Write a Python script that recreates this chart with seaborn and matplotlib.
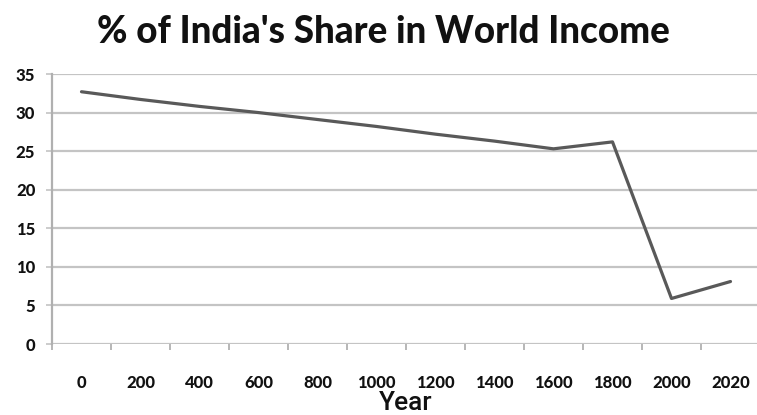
import pandas as pd
import matplotlib
matplotlib.use("Agg")
import matplotlib.pyplot as plt
import seaborn as sns
from matplotlib.ticker import FixedLocator

# values
years = ["0", "200", "400", "600", "800", "1000", "1200", "1400", "1600", "1800", "2000", "2020"]
share = [32.7, 31.7, 30.8, 30.0, 29.1, 28.2, 27.2, 26.3, 25.3, 26.2, 5.9, 8.1]
y_ticks = [0, 5, 10, 15, 20, 25, 30, 35]

df = pd.DataFrame({"Year": years, "Share": share})

sns.set_theme(style="white")
plt.rcParams["font.family"] = ["Lato", "DejaVu Sans"]

fig = plt.figure(figsize=(7.57, 4.15), dpi=100)
ax = fig.add_axes([52 / 757, 1 - 344 / 415, 708 / 757, 270 / 415])

sns.lineplot(data=df, x="Year", y="Share", ax=ax, color="#595959", linewidth=2.3, sort=False)

ax.set_xlim(-0.5, len(years) - 0.5)
ax.set_ylim(0, 35)
ax.set_yticks(y_ticks)
ax.yaxis.grid(True, color="#c4c4c4", linewidth=1.6)
ax.xaxis.grid(False)

for side in ["top", "right", "bottom"]:
    ax.spines[side].set_visible(False)
ax.spines["left"].set_color("#b0b0b0")
ax.spines["left"].set_linewidth(1.6)

ax.set_xticks(range(len(years)))
ax.set_xticklabels(years, fontsize=12, fontweight="black", color="#111111")
ax.xaxis.set_minor_locator(FixedLocator([i + 0.5 for i in range(-1, len(years))]))
ax.tick_params(axis="x", which="major", length=0, pad=22)
ax.tick_params(axis="x", which="minor", bottom=True, length=4, width=1.2, color="#aaaaaa")
ax.tick_params(axis="y", which="major", left=True, length=4, width=1.2, color="#c4c4c4", pad=8)
for lbl in ax.get_yticklabels():
    lbl.set_fontsize(12)
    lbl.set_fontweight("black")
    lbl.set_color("#111111")

ax.set_xlabel("Year", fontsize=19, fontweight="medium",
              family=["Roboto", "DejaVu Sans"],
              color="#111111", labelpad=0)
ax.set_ylabel("")

fig.text(383 / 757, 1 - 32 / 415, "% of India's Share in World Income", ha="center", va="center",
         fontsize=26.5, fontweight="black", color="#111111")

fig.savefig("out.png", dpi=100)
